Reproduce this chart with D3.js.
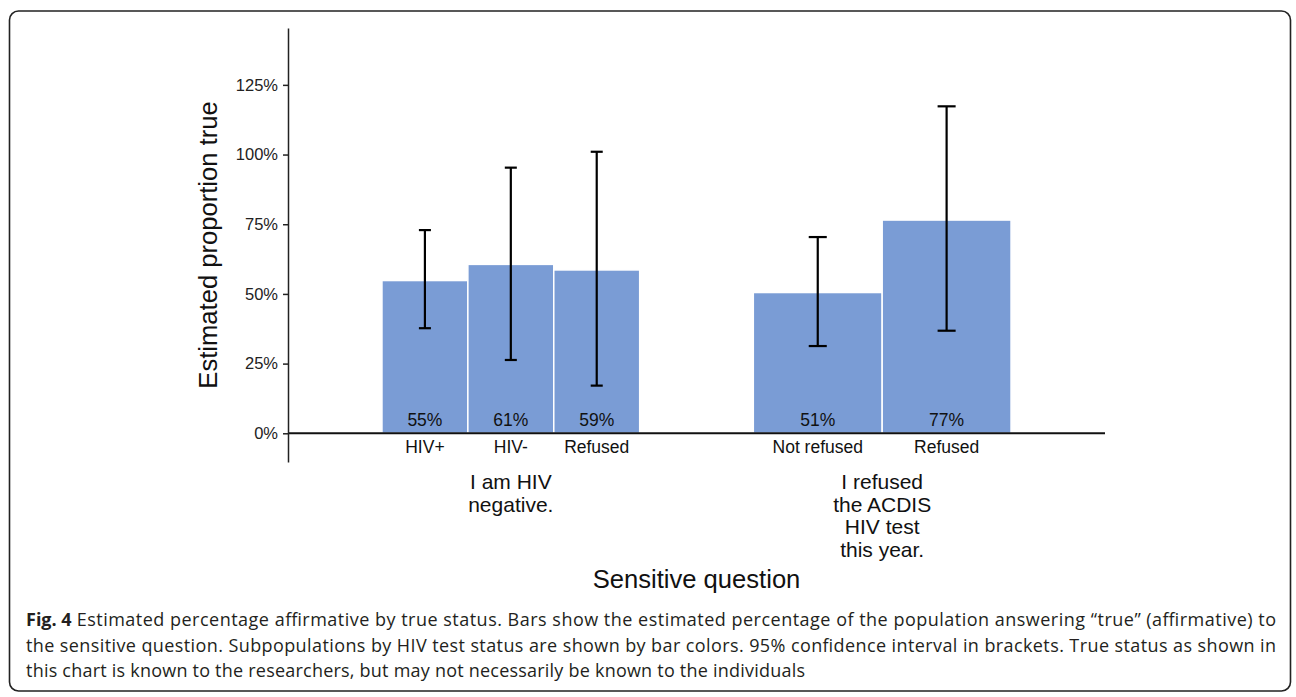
<!DOCTYPE html>
<html>
<head>
<meta charset="utf-8">
<script src="https://cdn.jsdelivr.net/npm/d3@7"></script>
<style>
  body { margin: 0; background: #fff; }
  svg { display: block; }
  .axis path, .axis line { stroke: #222; stroke-width: 1.5; }
  .axis text { font-family: "Liberation Sans", Arial, sans-serif; font-size: 16.5px; fill: #222; }
</style>
</head>
<body>
<svg width="1296" height="697"></svg>
<script>
// data
var questions = ['I am HIV negative.', 'I refused the ACDIS HIV test this year.'];
var questionLines = [['I am HIV', 'negative.'], ['I refused', 'the ACDIS', 'HIV test', 'this year.']];
var subgroups = [['HIV+', 'HIV-', 'Refused'], ['Not refused', 'Refused']];
var estimates = [[0.548, 0.606, 0.586], [0.505, 0.765]];
var lower = [[0.377, 0.263, 0.171], [0.313, 0.368]];
var upper = [[0.729, 0.953, 1.010], [0.704, 1.173]];
var labels = [['55%', '61%', '59%'], ['51%', '77%']];
var yTicks = [0, 0.25, 0.5, 0.75, 1, 1.25];

var captionBold = 'Fig. 4';
var captionLines = [
  'Estimated percentage affirmative by true status. Bars show the estimated percentage of the population answering \u201Ctrue\u201D (affirmative) to',
  'the sensitive question. Subpopulations by HIV test status are shown by bar colors. 95% confidence interval in brackets. True status as shown in',
  'this chart is known to the researchers, but may not necessarily be known to the individuals'
];

var barColor = '#7a9cd5';
var svg = d3.select('svg');
var font = '"Liberation Sans", Arial, sans-serif';

// frame
svg.append('rect')
  .attr('x', 9.5).attr('y', 11)
  .attr('width', 1281).attr('height', 680)
  .attr('rx', 9).attr('ry', 9)
  .attr('fill', 'none')
  .attr('stroke', '#222')
  .attr('stroke-width', 1.6);

var pLeft = 288, pRight = 1105, pTop = 28, pBottom = 462;

var x = d3.scalePoint().domain(questions).range([pLeft, pRight]).padding(0.6);
var y = d3.scaleLinear().domain([-0.103, 1.454]).range([pBottom, pTop]);
var groupWidth = 0.694 * x.step();

// flatten rows for drawing
var rows = [];
questions.forEach(function(q, gi) {
  var inner = d3.scaleBand()
    .domain(subgroups[gi])
    .range([x(q) - groupWidth / 2, x(q) + groupWidth / 2]);
  subgroups[gi].forEach(function(s, si) {
    rows.push({
      x0: inner(s), w: inner.bandwidth(), name: s,
      est: estimates[gi][si], lo: lower[gi][si], hi: upper[gi][si],
      label: labels[gi][si]
    });
  });
});

var g = svg.append('g');

g.selectAll('rect.bar')
  .data(rows)
  .enter()
  .append('rect')
  .attr('class', 'bar')
  .attr('x', function(d) { return d.x0; })
  .attr('y', function(d) { return y(d.est); })
  .attr('width', function(d) { return d.w; })
  .attr('height', function(d) { return y(0) - y(d.est); })
  .attr('fill', barColor)
  .attr('stroke', '#fff')
  .attr('stroke-width', 1.5);

// zero line
g.append('line')
  .attr('x1', pLeft).attr('x2', pRight)
  .attr('y1', y(0)).attr('y2', y(0))
  .attr('stroke', '#111')
  .attr('stroke-width', 2);

// error bars
var err = g.selectAll('g.err')
  .data(rows)
  .enter()
  .append('g')
  .attr('class', 'err')
  .attr('stroke', '#000')
  .attr('stroke-width', 2.2);
err.append('line')
  .attr('x1', function(d) { return d.x0 + d.w / 2; })
  .attr('x2', function(d) { return d.x0 + d.w / 2; })
  .attr('y1', function(d) { return y(d.lo); })
  .attr('y2', function(d) { return y(d.hi); });
['lo', 'hi'].forEach(function(k) {
  err.append('line')
    .attr('x1', function(d) { return d.x0 + d.w / 2 - 0.07 * d.w; })
    .attr('x2', function(d) { return d.x0 + d.w / 2 + 0.07 * d.w; })
    .attr('y1', function(d) { return y(d[k]); })
    .attr('y2', function(d) { return y(d[k]); });
});

// value labels inside bars
g.selectAll('text.val')
  .data(rows)
  .enter()
  .append('text')
  .attr('class', 'val')
  .attr('x', function(d) { return d.x0 + d.w / 2; })
  .attr('y', y(0) - 7)
  .attr('text-anchor', 'middle')
  .style('font-family', font)
  .style('font-size', '17.5px')
  .style('fill', '#111')
  .text(function(d) { return d.label; });

// subgroup labels
g.selectAll('text.sub')
  .data(rows)
  .enter()
  .append('text')
  .attr('class', 'sub')
  .attr('x', function(d) { return d.x0 + d.w / 2; })
  .attr('y', y(0) + 19.5)
  .attr('text-anchor', 'middle')
  .style('font-family', font)
  .style('font-size', '17.5px')
  .style('fill', '#111')
  .text(function(d) { return d.name; });

// question labels
questions.forEach(function(q, gi) {
  var t = g.append('text')
    .attr('text-anchor', 'middle')
    .style('font-family', font)
    .style('font-size', '21px')
    .style('fill', '#111');
  questionLines[gi].forEach(function(line, li) {
    t.append('tspan')
      .attr('x', x(q))
      .attr('y', 489 + li * 22.7)
      .text(line);
  });
});

// y axis
var yAxis = d3.axisLeft(y)
  .tickValues(yTicks)
  .tickFormat(d3.format('.0%'))
  .tickSizeInner(5)
  .tickSizeOuter(0)
  .tickPadding(5);
svg.append('g')
  .attr('class', 'axis')
  .attr('transform', 'translate(' + pLeft + ',0)')
  .call(yAxis);

// axis titles
svg.append('text')
  .attr('transform', 'translate(217,' + ((pTop + pBottom) / 2) + ') rotate(-90)')
  .attr('text-anchor', 'middle')
  .style('font-family', font)
  .style('font-size', '25.6px')
  .style('fill', '#111')
  .text('Estimated proportion true');

svg.append('text')
  .attr('x', (pLeft + pRight) / 2)
  .attr('y', 588)
  .attr('text-anchor', 'middle')
  .style('font-family', font)
  .style('font-size', '25.6px')
  .style('fill', '#111')
  .text('Sensitive question');

// caption
var capFont = '"Open Sans", "Noto Sans", sans-serif';
var fig = svg.append('text')
  .attr('x', 26).attr('y', 626)
  .style('font-family', capFont)
  .style('font-size', '18px')
  .style('font-weight', 'bold')
  .style('fill', '#231f20')
  .text(captionBold);
var figW = fig.node().getComputedTextLength();
var capStart = [26 + figW + 5, 26, 26];
var capEnd = [1276, 1276, 805];
captionLines.forEach(function(line, i) {
  svg.append('text')
    .attr('x', capStart[i])
    .attr('y', 626 + i * 25.5)
    .attr('textLength', capEnd[i] - capStart[i])
    .attr('lengthAdjust', 'spacing')
    .style('font-family', capFont)
    .style('font-size', '18px')
    .style('fill', '#231f20')
    .text(line);
});
</script>
</body>
</html>
